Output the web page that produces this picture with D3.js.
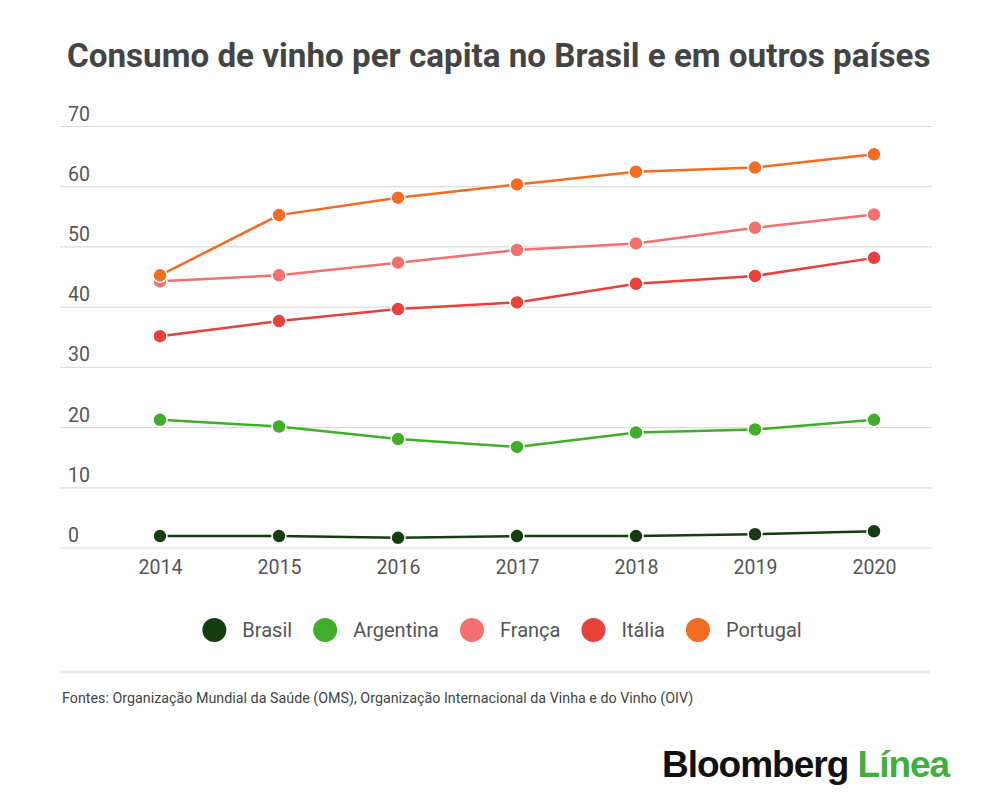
<!DOCTYPE html>
<html>
<head>
<meta charset="utf-8">
<script src="https://cdn.jsdelivr.net/npm/d3@7"></script>
<style>
    body { margin: 0; background: #fff; }
    svg text { font-family: Roboto, "Noto Sans", sans-serif; }
</style>
</head>
<body>
<div id="chart"></div>
<script>

const years = [2014, 2015, 2016, 2017, 2018, 2019, 2020];
const yTicks = [0, 10, 20, 30, 40, 50, 60, 70];

const countries = ['Brasil', 'Argentina', 'França', 'Itália', 'Portugal'];
const colors = ['#163d12', '#40ad2b', '#f2706d', '#e8403a', '#f46b22'];

const brasil = [1.9, 1.9, 1.6, 1.9, 1.9, 2.2, 2.7];
const argentina = [21.2, 20.1, 18.0, 16.7, 19.1, 19.6, 21.2];
const franca = [44.2, 45.2, 47.3, 49.4, 50.5, 53.1, 55.3];
const italia = [35.1, 37.6, 39.6, 40.7, 43.8, 45.1, 48.1];
const portugal = [45.2, 55.2, 58.1, 60.3, 62.4, 63.1, 65.3];

const series = [brasil, argentina, franca, italia, portugal];

const width = 1000, height = 810;

const svg = d3.select('#chart').append('svg')
    .attr('width', width)
    .attr('height', height);

// title
svg.append('text')
    .attr('x', 67)
    .attr('y', 67)
    .attr('font-size', 33.2)
    .attr('font-weight', 700)
    .attr('fill', '#444')
    .text('Consumo de vinho per capita no Brasil e em outros países');

const x = d3.scalePoint()
    .domain(years)
    .range([160, 874]);

const y = d3.scaleLinear()
    .domain([0, 70])
    .range([547.5, 126]);

// y gridlines + labels sitting above them
const yAxis = d3.axisRight(y)
    .tickValues(yTicks)
    .tickSize(872)
    .tickFormat(d => d);

svg.append('g')
    .attr('class', 'y axis')
    .attr('transform', 'translate(60, 0)')
    .call(yAxis)
    .call(g => g.select('.domain').remove())
    .call(g => g.selectAll('.tick line').attr('stroke', '#dcdcdc').attr('stroke-width', 1.2))
    .call(g => g.selectAll('.tick text')
        .attr('x', 8)
        .attr('dy', -6)
        .attr('font-size', 19.5)
        .attr('fill', '#555'));

// x labels
const xAxis = d3.axisBottom(x).tickSize(0).tickPadding(0);

svg.append('g')
    .attr('class', 'x axis')
    .attr('transform', 'translate(0, 547.5)')
    .call(xAxis)
    .call(g => g.select('.domain').remove())
    .call(g => g.selectAll('.tick text')
        .attr('y', 26)
        .attr('dy', 0)
        .attr('font-size', 19.5)
        .attr('fill', '#555'));

const line = d3.line()
    .x((d, i) => x(years[i]))
    .y(d => y(d));

const lines = svg.append('g').attr('class', 'lines');

lines.selectAll('.line')
    .data(series).enter()
    .append('path')
    .attr('class', 'line')
    .attr('d', d => line(d))
    .attr('fill', 'none')
    .attr('stroke', (d, i) => colors[i])
    .attr('stroke-width', 2.5);

lines.selectAll('.circles-group')
    .data(series).enter()
    .append('g')
    .attr('class', 'circles-group')
    .style('fill', (d, i) => colors[i])
    .selectAll('circle')
    .data(d => d).enter()
    .append('circle')
    .attr('cx', (d, i) => x(years[i]))
    .attr('cy', d => y(d))
    .attr('r', 7)
    .attr('stroke', '#fff')
    .attr('stroke-width', 1.5);

// legend, centred under the chart
const legend = svg.append('g').attr('class', 'legend');
let lx = 0;
countries.forEach((c, i) => {
    const item = legend.append('g').attr('transform', `translate(${lx}, 0)`);
    item.append('circle')
        .attr('cx', 12)
        .attr('cy', 0)
        .attr('r', 12)
        .attr('fill', colors[i]);
    const t = item.append('text')
        .attr('x', 40)
        .attr('y', 7)
        .attr('font-size', 20)
        .attr('fill', '#555')
        .text(c);
    lx += 40 + t.node().getComputedTextLength() + 21;
});
lx -= 21;
legend.attr('transform', `translate(${502 - lx / 2}, 630)`);

// separator
svg.append('line')
    .attr('x1', 60)
    .attr('x2', 930)
    .attr('y1', 672)
    .attr('y2', 672)
    .attr('stroke', '#e8eeee')
    .attr('stroke-width', 3);

svg.append('text')
    .attr('x', 62)
    .attr('y', 703)
    .attr('font-size', 14.3)
    .attr('fill', '#444')
    .text('Fontes: Organização Mundial da Saúde (OMS), Organização Internacional da Vinha e do Vinho (OIV)');

// logo
const logo = svg.append('text')
    .attr('x', 662)
    .attr('y', 777)
    .attr('font-weight', 700)
    .attr('font-size', 37)
    .attr('letter-spacing', -1)
    .style('font-family', '"Liberation Sans", Arial, sans-serif');
logo.append('tspan').attr('fill', '#111').text('Bloomberg ');
logo.append('tspan').attr('fill', '#3fb13a').text('Línea');

</script>
</body>
</html>
